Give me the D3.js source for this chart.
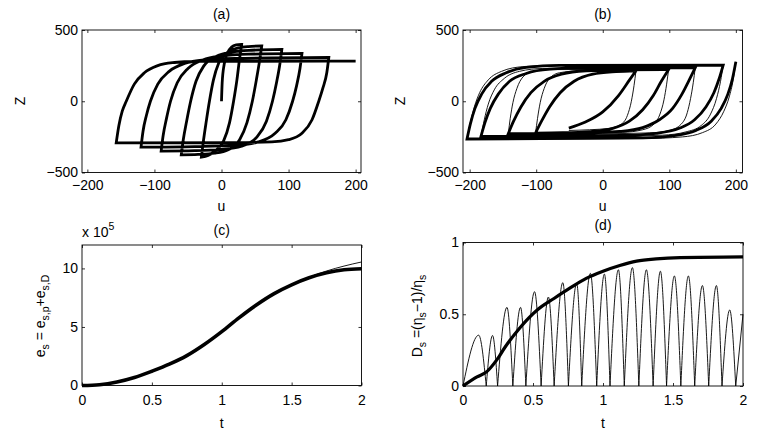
<!DOCTYPE html>
<html>
<head>
<meta charset="utf-8">
<script src="https://cdn.jsdelivr.net/npm/d3@7"></script>
<style>
  body { margin: 0; background: #fff; }
  svg text { font-family: "Liberation Sans", Arial, Helvetica, sans-serif; font-size: 14px; fill: #000; }
</style>
</head>
<body>
<script>
// tick values
var uTicks = [-200, -100, 0, 100, 200];
var zTicks = [-500, 0, 500];
var tTicks = [0, 0.5, 1, 1.5, 2];
var eTicks = [0, 5, 10];
var dTicks = [0, 0.5, 1];

// (a) hysteresis, one branch per half cycle, [u, Z]
var loopsA = [
  [[0,0],[1,130],[4,260],[9,340],[15,380],[22,395],[30,399]],
  [[30,399],[27,300],[23,150],[18,0],[12,-150],[3,-280],[-10,-350],[-20,-380],[-30,-392]],
  [[-30,-392],[-27,-280],[-23,-150],[-18,0],[-12,150],[-4,270],[8,340],[25,374],[40,384],[60,388]],
  [[60,388],[57,290],[52,150],[46,0],[38,-150],[27,-270],[10,-340],[-10,-364],[-35,-373],[-60,-376]],
  [[-60,-376],[-57,-270],[-52,-140],[-46,0],[-38,140],[-26,250],[-8,315],[15,345],[45,358],[90,364]],
  [[90,364],[87,260],[82,130],[76,0],[67,-140],[53,-250],[30,-315],[0,-338],[-40,-347],[-90,-350]],
  [[-90,-350],[-87,-240],[-82,-120],[-76,0],[-66,130],[-50,230],[-28,290],[0,318],[40,330],[120,336]],
  [[120,336],[117,230],[112,110],[106,0],[96,-130],[80,-225],[55,-285],[20,-310],[-40,-318],[-120,-322]],
  [[-120,-322],[-117,-210],[-112,-100],[-106,0],[-95,120],[-78,210],[-55,265],[-25,290],[20,300],[160,307]],
  [[160,307],[157,200],[151,90],[145,0],[135,-130],[120,-225],[100,-270],[75,-285],[20,-290],[-157,-292]],
  [[-157,-292],[-153,-170],[-148,-70],[-142,0],[-130,120],[-115,200],[-95,250],[-70,272],[-40,280],[200,282]]
];

// (b) thick and thin models
var loopsBThick = [
  [[200,277],[195,160],[188,50],[178,-50],[163,-140],[140,-205],[110,-240],[60,-257],[-204,-265]],
  [[-204,-265],[-199,-160],[-192,-50],[-182,50],[-167,140],[-145,200],[-115,237],[-65,252],[181,254]],
  [[181,254],[175,160],[167,60],[155,-40],[138,-130],[115,-190],[80,-225],[30,-240],[-183,-246]],
  [[-183,-246],[-177,-150],[-169,-50],[-157,50],[-140,140],[-115,195],[-80,225],[-30,234],[139,235]],
  [[139,235],[130,150],[119,50],[105,-50],[85,-130],[60,-185],[25,-212],[-30,-224],[-142,-228]],
  [[-142,-228],[-134,-140],[-123,-40],[-108,60],[-88,140],[-62,190],[-25,214],[30,221],[99,223]],
  [[99,223],[88,140],[76,40],[60,-60],[40,-140],[15,-190],[-20,-213],[-60,-221],[-101,-223]],
  [[-101,-223],[-92,-140],[-80,-40],[-64,60],[-43,140],[-15,190],[20,208],[50,214]],
  [[50,214],[40,148],[24,42],[0,-75],[-26,-146],[-51,-188]]
];
var loopsBThin = [
  [[200,277],[196,150],[190,30],[182,-70],[170,-160],[150,-220],[120,-250],[60,-262],[-204,-266]],
  [[-204,-266],[-199,-150],[-193,-40],[-185,60],[-172,150],[-152,210],[-120,243],[-70,253],[181,255]],
  [[181,255],[177,140],[171,20],[162,-90],[148,-170],[125,-215],[90,-238],[30,-245],[-183,-248]],
  [[-183,-248],[-178,-130],[-172,-20],[-163,80],[-148,160],[-125,210],[-90,230],[139,236]],
  [[139,236],[136,130],[132,20],[127,-80],[118,-160],[100,-205],[70,-222],[0,-228],[-142,-230]],
  [[-142,-230],[-139,-120],[-135,-10],[-129,90],[-120,170],[-105,210],[-75,222],[99,225]],
  [[99,225],[96,120],[92,10],[86,-90],[77,-160],[60,-200],[30,-218],[-101,-224]],
  [[-101,-224],[-98,-120],[-94,-10],[-88,90],[-80,160],[-65,200],[-35,213],[50,215]],
  [[50,215],[47,110],[43,0],[37,-100],[28,-160],[10,-190],[-20,-200],[-51,-205]]
];

// (c) energy, x 10^5
var energyThick = [[0,0],[0.125,0.07],[0.25,0.3],[0.375,0.68],[0.5,1.22],[0.625,1.82],[0.75,2.55],[0.875,3.5],
  [1.0,4.6],[1.125,5.8],[1.25,6.9],[1.375,7.85],[1.5,8.6],[1.625,9.2],[1.75,9.62],[1.875,9.88],[2,9.97]];
var energyThin = [[0,0],[0.125,0.07],[0.25,0.3],[0.375,0.68],[0.5,1.22],[0.625,1.82],[0.75,2.55],[0.875,3.5],
  [1.0,4.6],[1.125,5.8],[1.25,6.9],[1.375,7.85],[1.5,8.62],[1.625,9.25],[1.75,9.78],[1.875,10.2],[2,10.55]];

// (d) damage index
var damageThick = [[0,0],[0.1,0.063],[0.17,0.1],[0.24,0.18],[0.3,0.27],[0.41,0.41],[0.53,0.53],[0.65,0.61],
  [0.76,0.68],[0.88,0.75],[1.0,0.8],[1.12,0.84],[1.24,0.87],[1.38,0.886],[1.55,0.895],[2,0.9]];
var damageZeros = [0,0.166,0.247,0.356,0.449,0.558,0.651,0.753,0.848,0.955,1.05,1.152,1.256,1.358,1.454,1.556,1.655,1.755,1.85,1.948];
var damagePeaks = [[0.112,0.354],[0.211,0.352],[0.314,0.548],[0.411,0.548],[0.511,0.657],[0.61,0.62],[0.713,0.72],
  [0.812,0.715],[0.91,0.785],[1.01,0.78],[1.11,0.81],[1.21,0.825],[1.31,0.81],[1.41,0.8],[1.51,0.767],[1.61,0.767],
  [1.71,0.7],[1.81,0.7],[1.905,0.53],[2,0.5]];

var svg = d3.select("body").append("svg").attr("width", 763).attr("height", 438);
var fmt = d3.format("");

function makePanel(p) {
  var x = d3.scaleLinear().domain(p.xDomain).range([p.left, p.right]);
  var y = d3.scaleLinear().domain(p.yDomain).range([p.bottom, p.top]);
  var g = svg.append("g");

  g.append("g").attr("transform", "translate(0," + p.bottom + ")")
    .call(d3.axisBottom(x).tickValues(p.xTicks).tickSize(-3).tickPadding(p.xPad).tickFormat(fmt));
  g.append("g").attr("transform", "translate(0," + p.top + ")")
    .call(d3.axisTop(x).tickValues(p.xTicks).tickSize(-3).tickFormat(""));
  g.append("g").attr("transform", "translate(" + p.left + ",0)")
    .call(d3.axisLeft(y).tickValues(p.yTicks).tickSize(-3).tickPadding(4).tickFormat(fmt));
  g.append("g").attr("transform", "translate(" + p.right + ",0)")
    .call(d3.axisRight(y).tickValues(p.yTicks).tickSize(-3).tickFormat(""));
  g.selectAll(".domain").remove();
  g.selectAll(".tick line").attr("stroke-width", 0.8);

  g.append("rect").attr("x", p.left).attr("y", p.top)
    .attr("width", p.right - p.left).attr("height", p.bottom - p.top)
    .style("fill", "none").style("stroke", "#000").style("stroke-width", 0.9);

  g.append("text").attr("x", (p.left + p.right) / 2).attr("y", p.titleY)
    .attr("text-anchor", "middle").text(p.title);
  g.append("text").attr("x", (p.left + p.right) / 2).attr("y", p.xLabelY)
    .attr("text-anchor", "middle").text(p.xLabel);

  return { g: g, x: x, y: y };
}

// one path for a list of branches, so corners get proper joins
function branchPath(branches, x, y) {
  var line = d3.line().x(function(d){ return x(d[0]); }).y(function(d){ return y(d[1]); })
    .curve(d3.curveMonotoneX);
  return branches.map(function(b, i){
    var s = line(b);
    return i ? "L" + s.slice(1) : s;
  }).join("");
}

function drawPath(g, d, w) {
  g.append("path").attr("d", d).style("fill", "none").style("stroke", "#000")
    .style("stroke-width", w).style("stroke-linejoin", "miter");
}

// (a)
var pa = makePanel({left: 82, right: 361, top: 30, bottom: 172.5, xDomain: [-208, 208], yDomain: [-500, 500],
  xTicks: uTicks, yTicks: zTicks, xPad: 7.5, title: "(a)", titleY: 19, xLabel: "u", xLabelY: 211});
drawPath(pa.g, branchPath(loopsA, pa.x, pa.y), 2.8);
pa.g.append("text").attr("transform", "translate(25,101) rotate(-90)").attr("text-anchor", "middle").text("Z");

// (b)
var pb = makePanel({left: 463, right: 742.5, top: 30, bottom: 172.5, xDomain: [-210, 210], yDomain: [-500, 500],
  xTicks: uTicks, yTicks: zTicks, xPad: 7.5, title: "(b)", titleY: 19, xLabel: "u", xLabelY: 211});
drawPath(pb.g, branchPath(loopsBThick, pb.x, pb.y), 2.8);
drawPath(pb.g, branchPath(loopsBThin, pb.x, pb.y), 0.9);
pb.g.append("text").attr("transform", "translate(405,101) rotate(-90)").attr("text-anchor", "middle").text("Z");

// (c)
var pc = makePanel({left: 82, right: 361.5, top: 245, bottom: 385.5, xDomain: [0, 2], yDomain: [0, 12],
  xTicks: tTicks, yTicks: eTicks, xPad: 9.5, title: "(c)", titleY: 235, xLabel: "t", xLabelY: 428});
drawPath(pc.g, branchPath([energyThin], pc.x, pc.y), 0.9);
drawPath(pc.g, branchPath([energyThick], pc.x, pc.y), 3.6);
var exp = pc.g.append("text").attr("x", 82).attr("y", 236.5);
exp.append("tspan").text("x 10");
exp.append("tspan").attr("dy", -7).style("font-size", "10.5px").text("5");

var ylc = pc.g.append("text").attr("transform", "translate(45,316) rotate(-90)").attr("text-anchor", "middle");
ylc.append("tspan").text("e");
ylc.append("tspan").attr("dy", 4).style("font-size", "10.5px").text("s");
ylc.append("tspan").attr("dy", -4).text(" = e");
ylc.append("tspan").attr("dy", 4).style("font-size", "10.5px").text("s,p");
ylc.append("tspan").attr("dy", -4).text("+e");
ylc.append("tspan").attr("dy", 4).style("font-size", "10.5px").text("s,D");

// (d)
var pd = makePanel({left: 463, right: 743, top: 242.5, bottom: 386, xDomain: [0, 2], yDomain: [0, 1],
  xTicks: tTicks, yTicks: dTicks, xPad: 9.5, title: "(d)", titleY: 230, xLabel: "t", xLabelY: 428});
var humps = damagePeaks.map(function(pk, i){
  var h = [[damageZeros[i], 0], pk];
  if (i + 1 < damageZeros.length) h.push([damageZeros[i + 1], 0]);
  return h;
});
drawPath(pd.g, branchPath(humps, pd.x, pd.y), 0.9);
drawPath(pd.g, branchPath([damageThick], pd.x, pd.y), 3.2);

var yld = pd.g.append("text").attr("transform", "translate(422,316) rotate(-90)").attr("text-anchor", "middle");
yld.append("tspan").text("D");
yld.append("tspan").attr("dy", 4).style("font-size", "10.5px").text("s");
yld.append("tspan").attr("dy", -4).text(" =(\u03B7");
yld.append("tspan").attr("dy", 4).style("font-size", "10.5px").text("s");
yld.append("tspan").attr("dy", -4).text("\u22121)/\u03B7");
yld.append("tspan").attr("dy", 4).style("font-size", "10.5px").text("s");
</script>
</body>
</html>
